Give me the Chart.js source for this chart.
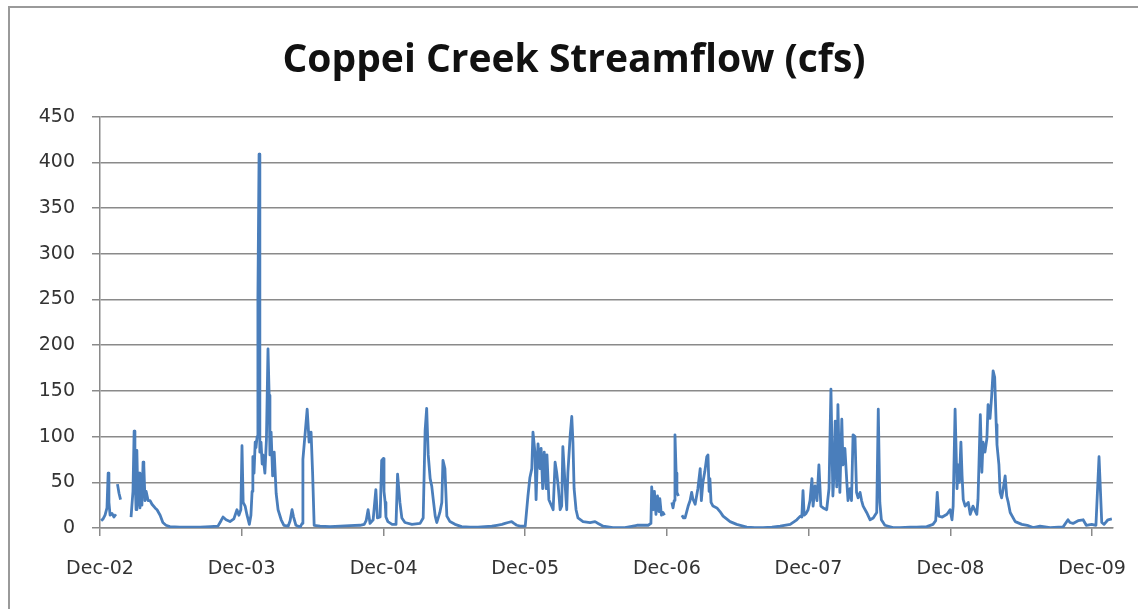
<!DOCTYPE html>
<html>
<head>
<meta charset="utf-8">
<script src="https://cdn.jsdelivr.net/npm/chart.js@4.4.1/dist/chart.umd.min.js"></script>
<style>
  html, body { margin: 0; padding: 0; background: #fff; overflow: hidden; }
  #wrap { position: relative; width: 1138px; height: 609px; }
  #frame { position: absolute; left: 8px; top: 6px; width: 1300px; height: 800px;
           border-left: 2px solid #9a9a9a; border-top: 2px solid #9a9a9a; pointer-events: none; }
  canvas { position: absolute; left: 0; top: 0; }
</style>
</head>
<body>
<div id="wrap">
  <canvas id="c" width="1138" height="609"></canvas>
  <div id="frame"></div>
</div>
<script>
// Axis ticks: 1 December of each year, as days since 1 Dec 2002
const tickDays = [0, 365, 731, 1096, 1461, 1826, 2192, 2557];
const tickLabels = ['Dec-02', 'Dec-03', 'Dec-04', 'Dec-05', 'Dec-06', 'Dec-07', 'Dec-08', 'Dec-09'];
const axisEndDay = 2611;

// Streamflow record: day offset since 1 Dec 2002 and flow in cfs (null = missing record)
const dayOffset = [
  3, 8, 13, 18, 21, 23, 26, 31, 36, 41, 43, 45, 49, 53, 66,
  80, 85, 88, 90, 93, 95, 98, 101, 103, 106, 108, 111, 113, 116, 119, 124, 129, 134, 142, 147, 155, 162, 170,
  180, 206, 232, 258, 284, 304, 312, 317, 325, 335, 345, 353, 358, 363, 366, 369, 374, 379, 385, 389, 392, 394,
  397, 400, 402, 405, 407, 410, 412, 415, 418, 420, 425, 429, 433, 436, 438, 441, 445, 449, 454, 459, 467, 474,
  485, 490, 495, 499, 505, 516, 521, 523, 528, 534, 539, 544, 548, 552, 567, 593, 619, 644, 670, 681, 686, 691,
  696, 704, 711, 715, 722, 726, 730, 732, 735, 737, 742, 753, 763, 767, 773, 778, 786, 804, 825, 833, 838, 842,
  846, 851, 855, 859, 864, 868, 871, 876, 881, 884, 889, 894, 902, 915, 932, 954, 974, 992, 1010, 1023, 1036,
  1044, 1052, 1061, 1067, 1074, 1083, 1096, 1103, 1108, 1113, 1116, 1121, 1124, 1127, 1129, 1134, 1137, 1141,
  1145, 1150, 1152, 1157, 1164, 1168, 1173, 1177, 1181, 1186, 1190, 1193, 1199, 1203, 1206, 1212, 1216, 1219,
  1222, 1227, 1232, 1245, 1263, 1276, 1284, 1297, 1322, 1353, 1384, 1397, 1413, 1420, 1422, 1426, 1429, 1433,
  1437, 1441, 1443, 1447, 1451, 1455, 1463, 1474, 1477, 1480, 1482, 1485, 1487, 1491, 1495, 1500, 1504, 1508,
  1516, 1521, 1525, 1528, 1534, 1541, 1547, 1550, 1554, 1559, 1564, 1567, 1570, 1572, 1575, 1580, 1590, 1598,
  1606, 1624, 1641, 1667, 1688, 1709, 1732, 1753, 1779, 1796, 1805, 1809, 1812, 1815, 1820, 1825, 1830, 1835,
  1838, 1843, 1848, 1853, 1858, 1864, 1873, 1879, 1884, 1889, 1892, 1895, 1899, 1902, 1907, 1912, 1915, 1920,
  1925, 1928, 1933, 1937, 1941, 1946, 1950, 1954, 1959, 1963, 1967, 1976, 1985, 1993, 2002, 2006, 2010, 2014,
  2023, 2044, 2062, 2088, 2105, 2131, 2147, 2154, 2158, 2162, 2171, 2183, 2191, 2196, 2199, 2204, 2209, 2212,
  2215, 2219, 2222, 2225, 2230, 2238, 2243, 2250, 2260, 2263, 2269, 2273, 2276, 2281, 2286, 2289, 2294, 2298,
  2302, 2306, 2310, 2312, 2317, 2320, 2324, 2328, 2333, 2337, 2341, 2346, 2359, 2376, 2390, 2405, 2423, 2449,
  2470, 2482, 2495, 2500, 2508, 2521, 2534, 2542, 2556, 2567, 2575, 2582, 2588, 2598, 2608
];
const flowCfs = [
  8, 10, 14, 22, 60, 28, 14, 16, 12, 15, null, 48, 38, 31, null,
  12, 40, 106, 60, 20, 85, 25, 60, 22, 45, 25, 72, 68, 30, 40, 30, 30, 26, 22, 20, 14, 6, 3,
  1.5, 1, 1, 1, 1.5, 2, 8, 12, 9, 7, 10, 20, 14, 20, 90, 28, 24, 14, 4, 14, 40, 78,
  60, 94, 88, 100, 252, 409, 83, 94, 70, 80, 60, 97, 196, 145, 80, 105, 57, 83, 38, 20, 9, 3,
  2, 8, 20, 12, 3, 1, 5, 75, 100, 130, 94, 105, 60, 3, 2, 1.5, 2, 2.5, 3, 4, 8, 20,
  5, 9, 42, 11, 12, 74, 76, 40, 28, 12, 7, 4, 4, 59, 28, 11, 6, 4, 5, 11, 107, 131,
  80, 54, 46, 31, 13, 6, 10, 17, 28, 74, 65, 13, 7, 4, 1.5, 1, 1, 1.5, 2, 3, 4,
  5, 6, 7, 5, 3, 2, 2, 35, 55, 65, 105, 83, 31, 72, 92, 65, 87, 43,
  83, 43, 80, 31, 24, 20, 72, 61, 46, 20, 24, 89, 46, 20, 61, 102, 122, 94,
  43, 20, 11, 7, 6, 7, 5, 2, 0.5, 0.5, 3, 3, 3, 5, 45, 20, 40, 15,
  35, 18, 32, 14, 17, 14, null, 28, 22, 30, 102, 60, 39, 35, null, 14, 11, 11,
  24, 30, 39, 32, 26, 43, 65, 30, 50, 62, 78, 80, 40, 54, 28, 24, 22, 18,
  13, 7, 4, 1, 0.5, 0.5, 1, 2, 4, 9, 13, 12, 41, 14, 16, 20, 30, 54,
  24, 46, 30, 69, 24, 22, 20, 43, 152, 35, 60, 117, 45, 135, 39, 119, 69, 87,
  50, 30, 43, 30, 102, 100, 39, 33, 39, 30, 24, 17, 9, 11, 17, 130, 28, 9,
  3, 0.5, 0.5, 1, 1, 1.5, 4, 8, 39, 13, 12, 15, 20, 9, 24, 130, 43, 69,
  50, 94, 57, 31, 24, 28, 15, 24, 15, 31, 124, 61, 94, 83, 98, 135, 120, 143,
  172, 165, 113, 91, 69, 39, 33, 43, 57, 35, 28, 17, 7, 4, 3, 0.5, 2, 0.5,
  1, 1, 9, 6, 5, 8, 9, 3, 4, 3, 78, 6, 4, 9, 10
];

const points = dayOffset.map((d, i) => ({ x: d, y: flowCfs[i] }));

const labelFont = { family: "'DejaVu Sans', sans-serif", size: 19 };
const gridGrey = '#8a8a8a';

new Chart(document.getElementById('c'), {
  type: 'line',
  data: {
    datasets: [{
      label: 'Streamflow (cfs)',
      data: points,
      borderColor: '#4a7ebb',
      borderWidth: 2.8,
      borderJoinStyle: 'round',
      pointRadius: 0,
      tension: 0,
      spanGaps: false,
      fill: false
    }]
  },
  options: {
    responsive: false,
    animation: false,
    layout: { padding: { left: 10, right: 0, top: 0, bottom: 0 } },
    plugins: {
      legend: { display: false },
      tooltip: { enabled: false },
      title: {
        display: true,
        text: 'Coppei Creek Streamflow (cfs)',
        color: '#111',
        font: { family: "'Open Sans', sans-serif", size: 39, weight: 'bold', lineHeight: 1.2 },
        padding: { top: 37, bottom: 33 }
      }
    },
    scales: {
      x: {
        type: 'linear',
        min: 0,
        max: axisEndDay,
        afterBuildTicks: (scale) => { scale.ticks = tickDays.map(v => ({ value: v })); },
        afterFit: (scale) => { scale.height = 81; scale.paddingLeft = 0; scale.paddingRight = 0; },
        grid: { display: true, drawOnChartArea: false, drawTicks: true, tickLength: 8, color: gridGrey, lineWidth: 1.5 },
        border: { display: true, color: gridGrey, width: 1.5 },
        ticks: {
          autoSkip: false,
          maxRotation: 0,
          padding: 22,
          color: '#333',
          font: labelFont,
          callback: (value) => {
            const i = tickDays.indexOf(value);
            return i >= 0 ? tickLabels[i] : '';
          }
        }
      },
      y: {
        min: 0,
        max: 450,
        afterFit: (scale) => { scale.width = 90; },
        grid: { color: gridGrey, lineWidth: 1.5, tickLength: 8 },
        border: { display: true, color: gridGrey, width: 1.5 },
        ticks: { stepSize: 50, padding: 17, color: '#333', font: labelFont }
      },
      edge: {
        position: 'right',
        display: true,
        afterFit: (scale) => { scale.width = 25; },
        grid: { display: false, drawTicks: false },
        border: { display: false },
        ticks: { display: false }
      }
    }
  }
});
</script>
</body>
</html>
